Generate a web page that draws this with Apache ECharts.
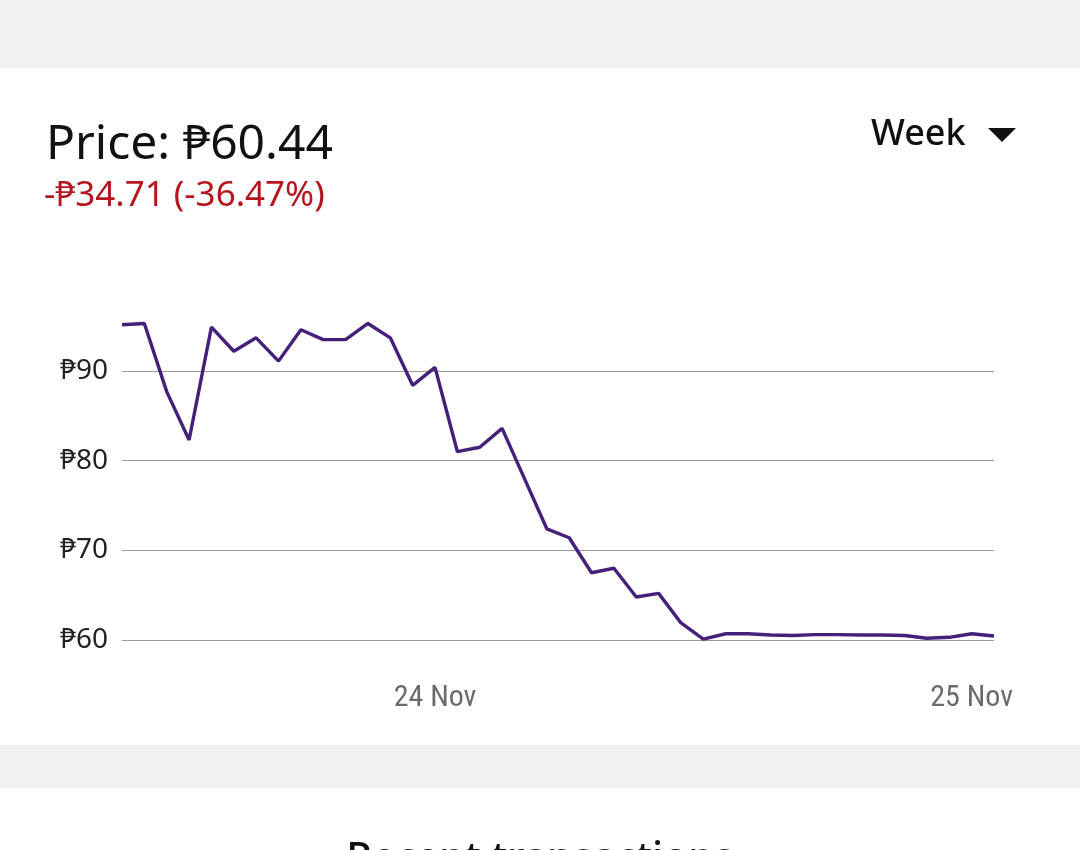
<!DOCTYPE html>
<html><head><meta charset="utf-8">
<script src="https://cdn.jsdelivr.net/npm/echarts@6/dist/echarts.min.js"></script>
<style>html,body{margin:0;padding:0;background:#fff}#c{width:1080px;height:850px}</style>
</head><body><div id="c"></div>
<script>
// Hourly categories from 23 Nov 10:00 to 25 Nov 01:00
const hours = [
 "23 Nov 10:00","23 Nov 11:00","23 Nov 12:00","23 Nov 13:00","23 Nov 14:00","23 Nov 15:00","23 Nov 16:00","23 Nov 17:00",
 "23 Nov 18:00","23 Nov 19:00","23 Nov 20:00","23 Nov 21:00","23 Nov 22:00","23 Nov 23:00","24 Nov 00:00","24 Nov 01:00",
 "24 Nov 02:00","24 Nov 03:00","24 Nov 04:00","24 Nov 05:00","24 Nov 06:00","24 Nov 07:00","24 Nov 08:00","24 Nov 09:00",
 "24 Nov 10:00","24 Nov 11:00","24 Nov 12:00","24 Nov 13:00","24 Nov 14:00","24 Nov 15:00","24 Nov 16:00","24 Nov 17:00",
 "24 Nov 18:00","24 Nov 19:00","24 Nov 20:00","24 Nov 21:00","24 Nov 22:00","24 Nov 23:00","25 Nov 00:00","25 Nov 01:00"
];
const prices = [
 95.15, 95.3, 87.7, 82.3, 94.9, 92.2, 93.7, 91.1, 94.6, 93.5,
 93.5, 95.3, 93.7, 88.4, 90.4, 81.0, 81.5, 83.6, 78.0, 72.4,
 71.4, 67.5, 68.0, 64.8, 65.2, 61.9, 60.1, 60.7, 60.7, 60.55,
 60.5, 60.6, 60.6, 60.55, 60.55, 60.5, 60.2, 60.3, 60.7, 60.44
];
const yTicks = [60, 70, 80, 90];
const priceText = "Price: ₱60.44";
const changeText = "-₱34.71 (-36.47%)";
const rangeText = "Week";
const sectionText = "Recent transactions";

const FONT = '"Noto Sans","DejaVu Sans",sans-serif';
const chart = echarts.init(document.getElementById('c'), null, {renderer:'canvas'});
chart.setOption({
  animation:false,
  backgroundColor:'#ffffff',
  grid:{left:122, right:86, top:371, bottom:210},
  xAxis:{
    type:'category', data:hours, boundaryGap:false,
    axisLine:{show:false}, axisTick:{show:false}, splitLine:{show:false},
    axisLabel:{
      interval:(i, v)=> v.endsWith('00:00'),
      formatter:(v)=> v.slice(0, v.indexOf(' ', 3)),
      color:'#6b6b6b', fontSize:30, fontFamily:'Roboto Condensed, Roboto, sans-serif', margin:43
    }
  },
  yAxis:{
    type:'value', min:yTicks[0], max:yTicks[yTicks.length-1], interval:10,
    axisLine:{show:false}, axisTick:{show:false},
    splitLine:{lineStyle:{color:'#9a9a9a', width:1}},
    axisLabel:{formatter:(v)=>'₱'+v, color:'#222', fontSize:28, fontFamily:FONT, margin:14}
  },
  series:[{
    type:'line', data:prices, clip:false, symbol:'none', smooth:false,
    lineStyle:{color:'#45207a', width:3.4}
  }],
  graphic:[
    {type:'rect', shape:{x:0,y:0,width:1080,height:68}, style:{fill:'#f0f0f0'}, z:-10},
    {type:'rect', shape:{x:0,y:745,width:1080,height:43}, style:{fill:'#f0f0f0'}, z:-10},
    {type:'text', left:46, top:121, style:{text:priceText, fill:'#111', font:'400 48px '+FONT}},
    {type:'text', left:44, top:179, style:{text:changeText, fill:'#b5161e', font:'400 35px '+FONT}},
    {type:'text', left:871, top:117, style:{text:rangeText, fill:'#111', font:'500 36px '+FONT}},
    {type:'polygon', shape:{points:[[988,128],[1016,128],[1002,142]]}, style:{fill:'#111'}},
    {type:'text', left:'center', top:840, style:{text:sectionText, fill:'#111', font:'500 41px '+FONT}}
  ]
});
</script></body></html>
